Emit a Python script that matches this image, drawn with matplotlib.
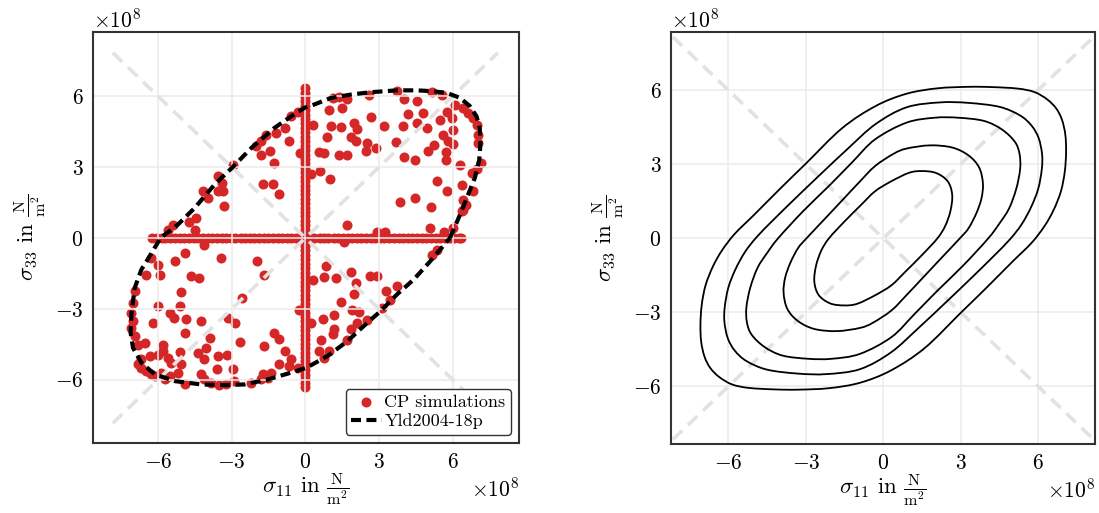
import numpy as np
import matplotlib
matplotlib.use("Agg")
import matplotlib.pyplot as plt
from matplotlib.path import Path
from matplotlib.patches import PathPatch

plt.rcParams["font.family"] = "serif"
plt.rcParams["font.serif"] = ["cmr10"]
plt.rcParams["mathtext.fontset"] = "cm"
plt.rcParams["axes.formatter.use_mathtext"] = True
plt.rcParams["axes.unicode_minus"] = True

SCALE = 1e8  # stresses below are given in units of 1e8 N/m^2

# ---- crystal plasticity simulations (off-axis load cases) ----
cp_s11 = [
    -0.58, -0.85, -0.65, -1.19, -1.60, -1.80, -2.01, -1.80, -1.44, -1.29, -0.22, -2.95, -3.56, -3.39,
    -3.56, -3.36, -4.17, -3.97, -3.33, -1.71, -1.33, -1.06, -4.44, -4.72, -4.49, -5.39, -5.60, -0.30,
    1.11, 1.37, 1.71, 2.59, 3.73, 4.00, 4.54, 5.15, 5.55, 6.09, 6.43, 6.63, 6.83, 6.97, 7.04, 7.04,
    7.17, 6.97, 6.83, 6.56, 6.43, 6.02,
    0.97, 1.51, 0.30, 1.04, 1.44, 0.90, 1.98, 2.09, 1.85, 2.05, 0.57, 0.77, 1.37, 1.71, 2.45, 2.86,
    2.52, 2.68, 3.19, 3.98, 4.16, 4.78, 4.54, 4.95, 3.69, 4.00, 4.47, 5.01, 5.22, 5.49, 5.75, 5.96,
    6.02, 5.62, 5.82, 6.02, 5.73, 5.71, 6.29, 6.77, 5.35, 5.75, 6.36, 6.43, 3.87, 4.47, 5.12, 6.36,
    1.71, 2.92, 3.26, 5.08, 5.65, 0.23, 0.61, 1.00,
    -6.27, -6.00, -5.93, -6.48, -5.33, -4.92, -4.11, -3.43, -4.65, -4.35, -1.96, -1.67, -2.59, -5.08,
    -6.00, -5.12, -6.95, -7.02, -7.09, -7.02, -7.11, -6.95, -6.82, -6.54, -6.21, -5.53, -5.35, -4.85,
    -4.92, -4.24, -3.90, -4.04, -4.38, -4.11, -3.56, -3.18, -3.59, -2.95, -3.16, -2.86, -2.68, -1.26,
    -1.06, -1.67, -0.85, -0.58, -0.65, -1.06, -1.40, -1.73, -0.31, -0.24, -5.12, -5.80, -5.80, -6.00,
    -5.60, -5.46, -5.05, -5.19, -5.53, -5.87, -6.14, -6.34, -6.68, -6.82, -6.68, -6.48, -6.27, -5.73,
    -4.92, -4.24, -4.11, -3.83, -3.50, -3.22, -2.89, -2.21, -1.80, -1.53,
    1.58, 0.84, 0.30, 0.74, 1.24, 1.85, 2.05, 2.65, 2.90, 1.98, 1.47, 1.91, 2.18, 1.17, 0.70, 0.23,
    1.17, 1.11, 1.85, 2.09, 2.52, 3.30, 3.73, 3.46, 3.13, 0.63, 0.57, 0.77, 0.97, 1.71, 5.15, 5.35,
]
cp_s33 = [
    5.16, 4.66, 4.10, 4.45, 4.38, 4.10, 3.88, 3.53, 3.70, 3.18, 3.60, 3.11, 2.61, 2.33,
    1.98, 1.98, 1.98, 1.69, 1.34, 2.29, 2.30, 1.88, 0.85, 0.68, 0.35, 0.56, 0.35, 5.35,
    5.93, 5.97, 5.90, 6.07, 6.21, 5.90, 5.79, 6.17, 6.07, 5.65, 5.51, 5.30, 5.08, 4.80, 4.38, 4.03,
    3.18, 2.90, 1.98, 1.41, 1.20, 0.42,
    5.40, 5.51, 4.80, 4.73, 4.69, 4.27, 4.87, 4.63, 4.27, 4.10, 3.64, 3.60, 3.53, 3.50, 3.70, 3.81,
    4.03, 5.11, 4.73, 4.73, 5.23, 5.30, 4.87, 4.66, 4.07, 3.42, 3.29, 3.70, 3.95, 5.01, 5.34, 5.08,
    4.59, 4.38, 4.10, 3.98, 3.64, 3.28, 3.11, 2.75, 2.40, 1.98, 2.26, 1.62, 1.53, 1.69, 1.31, 1.16,
    0.54, 0.25, 0.25, 0.42, 0.25, 2.71, 2.82, 2.50,
    -0.85, -1.13, -1.55, -1.55, -0.99, -0.63, -0.28, -0.85, -1.62, -1.69, -0.99, -1.55, -2.56, -2.30,
    -2.89, -2.89, -2.25, -2.75, -3.17, -3.52, -3.80, -4.15, -4.51, -4.44, -3.62, -3.17, -3.38, -3.42,
    -4.04, -3.52, -4.23, -4.65, -4.86, -5.11, -5.00, -4.97, -5.54, -5.56, -3.38, -3.62, -4.41, -4.01,
    -4.27, -4.58, -4.79, -5.14, -5.42, -5.35, -5.70, -5.77, -5.49, -3.03, -4.83, -4.51, -4.79, -4.97,
    -5.07, -5.28, -5.35, -5.70, -5.85, -5.70, -5.85, -5.00, -5.14, -5.35, -5.49, -5.63, -5.77, -5.99,
    -6.20, -5.77, -5.99, -6.13, -6.23, -6.20, -6.06, -6.13, -5.99, -5.92,
    -0.18, -1.17, -1.76, -1.65, -1.69, -1.44, -1.90, -1.62, -1.59, -2.39, -2.72, -3.06, -3.14, -3.24, -3.42, -3.62,
    -3.87, -4.08, -3.87, -3.62, -3.48, -2.25, -2.04, -2.61, -2.96, -4.30, -4.79, -5.07, -4.79, -4.30, -0.70, -0.49,
]

# uniaxial load cases along the sigma_11 axis (sigma_33 = 0)
axis_s11 = [
    -6.25, -6.05, -5.86, -5.70, -5.52, -5.31, -5.12, -4.95, -4.74, -4.55, -4.38, -4.16, -3.98, -3.80,
    -3.60, -3.41, -3.22, -3.03, -2.85, -2.64, -2.46, -2.27, -2.08, -1.90, -1.70, -1.52, -1.33, -1.12,
    -0.95, -0.76, -0.57, -0.38, -0.20, 0.19, 0.37, 0.58, 0.76, 0.94, 1.15, 1.33, 1.52, 1.72, 1.90,
    2.10, 2.28, 2.47, 2.66, 2.85, 3.04, 3.22, 3.42, 3.60, 3.80, 3.98, 4.18, 4.36, 4.55, 4.74, 4.93,
    5.12, 5.31, 5.50, 5.70, 5.88, 6.07, 6.25, 6.35,
]
# uniaxial load cases along the sigma_33 axis (sigma_11 = 0)
axis_s33 = [
    -6.33, -6.15, -5.96, -5.78, -5.60, -5.41, -5.22, -5.03, -4.85, -4.66, -4.47, -4.28, -4.10, -3.91,
    -3.72, -3.53, -3.35, -3.16, -2.97, -2.78, -2.60, -2.41, -2.22, -2.03, -1.85, -1.66, -1.47, -1.28,
    -1.10, -0.91, -0.72, -0.53, -0.35, -0.16, 0.0, 0.16, 0.35, 0.53, 0.72, 0.91, 1.10, 1.28, 1.47,
    1.66, 1.85, 2.03, 2.22, 2.41, 2.60, 2.78, 2.97, 3.16, 3.35, 3.53, 3.72, 3.91, 4.10, 4.28, 4.47,
    4.66, 4.85, 5.03, 5.22, 5.41, 5.60, 5.78, 5.96, 6.15, 6.36,
]

# ---- Yld2004-18p yield locus ----
yld_s11 = [
    5.89, 6.30, 6.63, 6.90, 7.08, 7.13, 7.10, 6.97, 6.70, 6.30, 5.76, 5.22, 4.54, 3.73, 2.65, 1.85,
    1.04, 0.36, -0.04, -0.58, -1.26, -2.20, -3.00, -3.70, -4.51, -5.19, -5.90, -6.34, -6.68, -6.95,
    -7.08, -7.12, -7.02, -6.68, -6.14, -5.32, -4.24, -3.29, -2.48, -1.53, -0.58, 0.03, 0.90, 1.71,
    2.52, 3.06, 3.73, 4.41, 5.08, 5.49, 5.89,
]
yld_s33 = [
    0.00, 0.99, 1.84, 2.54, 3.30, 4.00, 4.66, 5.15, 5.58, 5.93, 6.14, 6.21, 6.25, 6.25, 6.17, 6.07,
    5.93, 5.65, 5.51, 5.15, 4.66, 3.81, 2.96, 2.26, 1.27, 0.57, 0.00, -0.77, -1.34, -2.11,
    -3.17, -4.00, -4.65, -5.28, -5.77, -6.06, -6.20, -6.23, -6.20, -5.99, -5.70, -5.50, -5.00, -4.37,
    -3.59, -3.10, -2.39, -1.76, -0.99, -0.49, 0.00,
]

# ---- iso-lines of the yield function (innermost to outermost) ----
iso1_s11 = [2.10, 2.40, 2.60, 2.67, 2.50, 2.05, 1.50, 1.00, 0.30, -0.32, -0.85, -1.50,
            -2.10, -2.40, -2.60, -2.67, -2.50, -2.05, -1.50, -1.00, -0.30, 0.32, 0.85, 1.50]
iso1_s33 = [0.00, 0.50, 1.10, 1.75, 2.30, 2.64, 2.72, 2.65, 2.30, 1.90, 1.36, 0.68,
            0.00, -0.50, -1.10, -1.75, -2.30, -2.64, -2.72, -2.65, -2.30, -1.90, -1.36, -0.68]

iso2_s11 = [2.97, 3.30, 3.60, 3.80, 3.86, 3.72, 3.32, 2.68, 1.81, 0.90, 0.40, -0.32, -0.93, -1.55,
            -2.25, -2.97, -3.30, -3.60, -3.80, -3.86, -3.72, -3.32, -2.68, -1.81, -0.90, -0.40,
            0.32, 0.93, 1.55, 2.25]
iso2_s33 = [0.00, 0.40, 1.00, 1.60, 2.20, 2.85, 3.34, 3.67, 3.76, 3.63, 3.42, 2.92, 2.27, 1.58,
            0.80, 0.00, -0.40, -1.00, -1.60, -2.20, -2.85, -3.34, -3.67, -3.76, -3.63, -3.42,
            -2.92, -2.27, -1.58, -0.80]

iso3_s11 = [4.07, 4.50, 4.87, 5.15, 5.30, 5.28, 5.10, 4.60, 3.90, 2.90, 2.00, 0.90, -0.32, -1.20,
            -2.10, -3.10, -4.07, -4.50, -4.87, -5.15, -5.30, -5.28, -5.10, -4.60, -3.90, -2.90,
            -2.00, -0.90, 0.32, 1.20, 2.10, 3.10]
iso3_s33 = [0.00, 0.60, 1.20, 2.00, 2.80, 3.40, 3.90, 4.40, 4.75, 4.88, 4.88, 4.68, 4.00, 3.08,
            2.12, 1.10, 0.00, -0.60, -1.20, -2.00, -2.80, -3.40, -3.90, -4.40, -4.75, -4.88,
            -4.88, -4.68, -4.00, -3.08, -2.12, -1.10]

iso4_s11 = [5.35, 5.72, 6.00, 6.14, 6.15, 6.02, 5.75, 5.30, 4.50, 3.30, 2.20, 0.90, -0.30, -1.40,
            -2.50, -3.40, -4.25, -4.90, -5.35, -5.72, -6.00, -6.14, -6.15, -6.02, -5.75, -5.30,
            -4.50, -3.30, -2.20, -0.90, 0.30, 1.40, 2.50, 3.40, 4.25, 4.90]
iso4_s33 = [0.55, 1.25, 2.00, 2.80, 3.40, 4.05, 4.55, 4.97, 5.32, 5.48, 5.50, 5.30, 4.62, 3.60,
            2.52, 1.62, 0.75, 0.05, -0.55, -1.25, -2.00, -2.80, -3.40, -4.05, -4.55, -4.97,
            -5.32, -5.48, -5.50, -5.30, -4.62, -3.60, -2.52, -1.62, -0.75, -0.05]

iso5_s11 = [6.25, 6.60, 6.88, 7.03, 7.08, 7.05, 6.92, 6.70, 6.35, 5.85, 5.20, 4.20, 3.30, 2.10,
            0.90, -0.30, -1.60, -3.00, -4.00, -5.00, -5.75,
            -6.25, -6.60, -6.88, -7.03, -7.08, -7.05, -6.92, -6.70, -6.35, -5.85, -5.20, -4.20,
            -3.30, -2.10, -0.90, 0.30, 1.60, 3.00, 4.00, 5.00, 5.75]
iso5_s33 = [0.50, 1.15, 1.90, 2.70, 3.50, 4.20, 4.80, 5.25, 5.62, 5.92, 6.06, 6.12, 6.13, 6.07,
            5.85, 5.35, 4.45, 3.02, 2.00, 0.95, 0.18,
            -0.50, -1.15, -1.90, -2.70, -3.50, -4.20, -4.80, -5.25, -5.62, -5.92, -6.06, -6.12,
            -6.13, -6.07, -5.85, -5.35, -4.45, -3.02, -2.00, -0.95, -0.18]

iso_lines = [(iso1_s11, iso1_s33), (iso2_s11, iso2_s33), (iso3_s11, iso3_s33),
             (iso4_s11, iso4_s33), (iso5_s11, iso5_s33)]

TICKS = [-6, -3, 0, 3, 6]
RED = "#d62728"
GRID = "#ebebeb"
DIAG = "#e2e2e2"
SPINE = "#333333"
FS_TICK = 15.5
FS_LABEL = 16.5


def smooth_closed_path(xs, ys):
    """Closed cubic Bezier path (Catmull-Rom tangents) through the given vertices."""
    p = np.column_stack([xs, ys]) * SCALE
    n = len(p)
    verts = [p[0]]
    codes = [Path.MOVETO]
    for i in range(n):
        p0, p1, p2, p3 = p[i - 1], p[i], p[(i + 1) % n], p[(i + 2) % n]
        verts += [p1 + (p2 - p0) / 6.0, p2 - (p3 - p1) / 6.0, p2]
        codes += [Path.CURVE4] * 3
    return Path(verts, codes)


def style_axes(ax, lim_x, lim_y):
    ax.set_xlim(lim_x[0] * SCALE, lim_x[1] * SCALE)
    ax.set_ylim(lim_y[0] * SCALE, lim_y[1] * SCALE)
    ax.set_xticks([t * SCALE for t in TICKS])
    ax.set_yticks([t * SCALE for t in TICKS])
    ax.grid(True, color=GRID, linewidth=1.1)
    ax.set_axisbelow("line")
    ax.tick_params(length=0, pad=7, labelsize=FS_TICK)
    for s in ax.spines.values():
        s.set_color(SPINE)
        s.set_linewidth(1.5)
    ax.xaxis.get_offset_text().set_fontsize(FS_TICK)
    ax.yaxis.get_offset_text().set_fontsize(FS_TICK)
    ax.set_xlabel(r"$\sigma_{11}$ in $\frac{\mathrm{N}}{\mathrm{m}^2}$", fontsize=FS_LABEL, labelpad=0)
    ax.set_ylabel(r"$\sigma_{33}$ in $\frac{\mathrm{N}}{\mathrm{m}^2}$", fontsize=FS_LABEL, labelpad=4)


fig = plt.figure(figsize=(10.99, 5.13), dpi=100)
ax1 = fig.add_axes([93 / 1099, 70 / 513, 426 / 1099, 411 / 513])
ax2 = fig.add_axes([671 / 1099, 69 / 513, 424 / 1099, 412 / 513])

# ---- left: simulations and fitted yield locus ----
style_axes(ax1, (-8.65, 8.7), (-8.68, 8.72))
pts_x = np.concatenate([cp_s11, axis_s11, np.zeros(len(axis_s33))]) * SCALE
pts_y = np.concatenate([cp_s33, np.zeros(len(axis_s11)), axis_s33]) * SCALE
ax1.scatter(pts_x, pts_y, s=52, color=RED, linewidths=0, zorder=1, label="CP simulations")
d = 7.84 * SCALE
ax1.plot([-d, d], [-d, d], color=DIAG, lw=2.6, dashes=(3.6, 2.2), zorder=2)
ax1.plot([-d, d], [d, -d], color=DIAG, lw=2.6, dashes=(3.6, 2.2), zorder=2)
ax1.plot(np.array(yld_s11) * SCALE, np.array(yld_s33) * SCALE, color="black", lw=3.0,
         dashes=(2.4, 1.3), zorder=3, label="Yld2004-18p")
leg = ax1.legend(loc="lower right", fontsize=13, frameon=True, fancybox=True,
                 borderaxespad=0.45, handlelength=1.7, handletextpad=0.15,
                 labelspacing=0.2, borderpad=0.3)
leg.get_frame().set_edgecolor(SPINE)
leg.get_frame().set_linewidth(1.0)
leg.get_frame().set_alpha(1.0)

# ---- right: iso-lines of the yield function ----
style_axes(ax2, (-8.22, 8.2), (-8.33, 8.35))
e = 8.15 * SCALE
ax2.plot([-e, e], [-e, e], color=DIAG, lw=2.6, dashes=(3.6, 2.2), zorder=2)
ax2.plot([-e, e], [e, -e], color=DIAG, lw=2.6, dashes=(3.6, 2.2), zorder=2)
for xs, ys in iso_lines:
    ax2.add_patch(PathPatch(smooth_closed_path(xs, ys), fill=False, edgecolor="black",
                            linewidth=1.3, zorder=3))

fig.savefig("out.png", dpi=100)
